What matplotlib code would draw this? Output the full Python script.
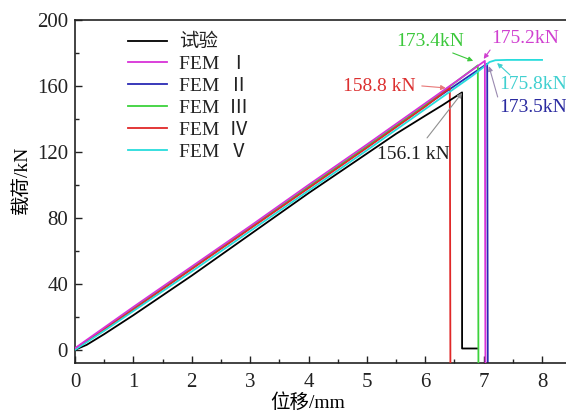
import matplotlib
matplotlib.use('Agg')
import matplotlib.pyplot as plt
from matplotlib.ticker import MultipleLocator

#---    Fonts
plt.rcParams['font.family'] = ['Liberation Serif', 'Noto Sans CJK SC', 'DejaVu Sans']
plt.rcParams['axes.unicode_minus'] = False

#---    Data
x_test = [0, 0.2, 0.5, 1, 1.5, 2, 2.5, 3, 3.5, 4, 4.5, 5, 5.5, 6, 6.3, 6.63, 6.63, 6.88]
y_test = [0, 3, 9.5, 21, 33, 45, 57.5, 70, 82.5, 95, 107, 119, 131, 142, 148.5, 156.1, 0.8, 0.8]

x_fem1 = [0, 1, 2, 3, 4, 5, 6, 6.5, 7.02, 7.03]
y_fem1 = [1, 26, 50.5, 75, 100, 124.5, 149.5, 162, 175.2, -10]

x_fem2 = [0, 1, 2, 3, 4, 5, 6, 7.06, 7.07]
y_fem2 = [0.5, 25, 49.5, 74, 98.5, 123, 148, 173.5, -10]

x_fem3 = [0, 1, 2, 3, 4, 5, 6, 6.9, 6.91]
y_fem3 = [0.5, 25, 49.5, 74, 99, 123.5, 148.5, 172.5, -10]

x_fem4 = [0, 1, 2, 3, 4, 5, 6, 6.42, 6.43]
y_fem4 = [0.5, 24.5, 49, 73.5, 98, 122.5, 147.5, 158.8, -10]

x_fem5 = [0, 0.5, 1, 2, 3, 4, 5, 6, 6.5, 6.8, 7.0, 7.1, 7.2, 7.4, 8.0]
y_fem5 = [0, 11.5, 23.5, 47.5, 72, 96.5, 121, 146, 158.5, 166, 171.5, 174.5, 175.6, 175.8, 175.8]

labels = ['试验', 'FEM  Ⅰ', 'FEM  Ⅱ', 'FEM  Ⅲ', 'FEM  Ⅳ', 'FEM  Ⅴ']
colors = ['#000000', '#d832d8', '#2a2ab4', '#3cd23c', '#e02828', '#28dcdc']

# peak labels: text, text position, arrow tail, arrow head, text colour, arrow colour
notes = [
    ('173.4kN', (6.08, 186.7), (6.47, 180.0), (6.82, 175.2), '#3cc83c', '#3cc83c'),
    ('175.2kN', (7.71, 189.0), (7.11, 181.8), (7.00, 176.4), '#d040d0', '#d040d0'),
    ('158.8 kN', (5.22, 159.4), (5.94, 160.0), (6.35, 158.8), '#dc3030', '#e87878'),
    ('156.1 kN', (5.79, 118.2), (6.03, 128.5), (6.63, 155.8), '#202020', '#909090'),
    ('175.8kN', (7.84, 160.6), (7.45, 166.7), (7.23, 173.9), '#40d0d0', '#40d0d0'),
    ('173.5kN', (7.84, 146.7), (7.24, 153.3), (7.09, 172.0), '#2a2aa0', '#9a8ab0'),
]

#---    Figure
fig = plt.figure(figsize=(5.66, 4.12), dpi=100)
ax = fig.add_axes([75/566, 49/412, 491/566, 343/412])

series = [(x_test, y_test), (x_fem1, y_fem1), (x_fem2, y_fem2),
          (x_fem3, y_fem3), (x_fem4, y_fem4), (x_fem5, y_fem5)]
zorders = [4, 6, 2, 3, 3, 5]
for (xs, ys), lab, c, z in zip(series, labels, colors, zorders):
    ax.plot(xs, ys, color=c, linewidth=1.3, label=lab, zorder=z)

for txt, tpos, tail, head, tc, ac in notes:
    ax.annotate('', xy=head, xytext=tail,
                arrowprops=dict(arrowstyle='-|>', color=ac, lw=0.8,
                                mutation_scale=7, shrinkA=0, shrinkB=0), zorder=7)
    ax.text(tpos[0], tpos[1], txt, color=tc, fontsize=14, ha='center', va='center', zorder=8)

ax.set_xlim(0, 8.41)
ax.set_ylim(-8, 200)
ax.xaxis.set_major_locator(MultipleLocator(1))
ax.xaxis.set_minor_locator(MultipleLocator(0.5))
ax.yaxis.set_major_locator(MultipleLocator(40))
ax.yaxis.set_minor_locator(MultipleLocator(20))
ax.tick_params(which='both', direction='in', top=False, right=False, labelsize=15, colors='#222222')
ax.tick_params(which='major', length=5, width=1.0)
ax.tick_params(which='minor', length=3, width=1.0)
ax.tick_params(axis='x', pad=7)
ax.tick_params(axis='y', pad=5)
for s in ['left', 'bottom', 'top']:
    ax.spines[s].set_linewidth(1.2)
    ax.spines[s].set_color('#222222')
ax.spines['right'].set_visible(False)

ax.set_xlabel('位移/mm', fontsize=14)
ax.set_ylabel('载荷/kN', fontsize=14)
ax.xaxis.set_label_coords(0.473, -0.088)
ax.yaxis.set_label_coords(-0.09, 0.534)

leg = ax.legend(loc='upper left', bbox_to_anchor=(0.108, 0.96), frameon=False,
                fontsize=14, handlelength=2.0, handletextpad=0.6, labelspacing=0.22,
                borderpad=0, borderaxespad=0)
for t in leg.get_texts():
    t.set_color('#222222')

plt.savefig('out.png', dpi=100)
